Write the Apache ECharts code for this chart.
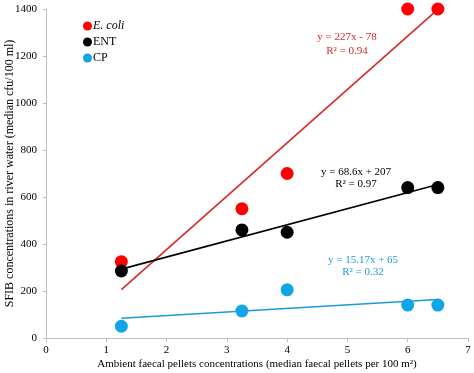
<!DOCTYPE html>
<html><head><meta charset="utf-8">
<script src="https://cdn.jsdelivr.net/npm/echarts@6/dist/echarts.min.js"></script>
<style>html,body{margin:0;padding:0;background:#fff}#c{width:474px;height:373px}</style>
</head><body><div id="c"></div>
<script>
const xVals = [1.25, 3.25, 4, 6, 6.5];
const ecoli = [325, 550, 700, 1400, 1400];
const ent = [285, 460, 450, 640, 640];
const cp = [50, 115, 205, 140, 140];
const trendX = [1.25, 6.5];
const ecoliTrend = [206, 1398];
const entTrend = [293, 653];
const cpTrend = [84, 164];
const seriesNames = ['E. coli', 'ENT', 'CP'];
const eqTexts = [['y = 227x - 78', 'R² = 0.94'], ['y = 68.6x + 207', 'R² = 0.97'], ['y = 15.17x + 65', 'R² = 0.32']];

const F = '"Liberation Serif", "Times New Roman", serif';
const pts = (ys) => xVals.map((x, i) => [x, ys[i]]);
const line = (ys) => trendX.map((x, i) => [x, ys[i]]);
const colors = ['#ff0000', '#000000', '#11a5e8'];
const lineColors = ['#d42a2a', '#000000', '#1c9ad6'];

const chart = echarts.init(document.getElementById('c'));
const series = [];
[ecoli, ent, cp].forEach((d, k) => {
  series.push({ name: seriesNames[k], type: 'scatter', data: pts(d), symbolSize: 13, itemStyle: { color: colors[k], opacity: 1 }, z: 3 });
  series.push({ name: seriesNames[k] + ' trend', type: 'line', data: line([ecoliTrend, entTrend, cpTrend][k]), symbol: 'none', lineStyle: { color: lineColors[k], width: 1.6 }, z: 2 });
});
chart.setOption({
  animation: false,
  grid: { left: 46, right: 6, top: 9, bottom: 35, containLabel: false, outerBoundsMode: 'none' },
  legend: {
    data: seriesNames, orient: 'vertical', left: 78, top: 15, itemGap: 4, icon: 'circle', itemWidth: 9, itemHeight: 9,
    textStyle: { fontFamily: F, fontSize: 12, color: '#000', padding: [0, 0, 0, -4], rich: { it: { fontStyle: 'italic', fontFamily: F, fontSize: 12 } } },
    formatter: n => n === 'E. coli' ? '{it|E. coli}' : n
  },
  xAxis: {
    type: 'value', min: 0, max: 7, interval: 1,
    name: 'Ambient faecal pellets concentrations (median faecal pellets per 100 m²)', nameLocation: 'middle', nameGap: 21, nameMoveOverlap: false,
    nameTextStyle: { fontFamily: F, fontSize: 11, color: '#000' },
    axisLine: { lineStyle: { color: '#c0c0c0' } }, axisTick: { lineStyle: { color: '#c0c0c0' }, length: 4 },
    axisLabel: { fontFamily: F, fontSize: 11, color: '#000', margin: 7 }, splitLine: { show: false }
  },
  yAxis: {
    type: 'value', min: 0, max: 1400, interval: 200,
    name: 'SFIB concentrations in river water (median cfu/100 ml)', nameLocation: 'middle', nameGap: 30, nameMoveOverlap: false,
    nameTextStyle: { fontFamily: F, fontSize: 12, color: '#000' },
    axisLine: { show: true, lineStyle: { color: '#c0c0c0' } }, axisTick: { show: true, lineStyle: { color: '#c0c0c0' }, length: 3 },
    axisLabel: { fontFamily: F, fontSize: 11, color: '#000', margin: 9, formatter: v => String(v) }, splitLine: { show: false }
  },
  graphic: [
    { type: 'text', x: 347, y: 44, style: { text: eqTexts[0].join('\n'), fill: '#d42a2a', font: '11px ' + F, align: 'center', verticalAlign: 'middle', lineHeight: 14 } },
    { type: 'text', x: 356, y: 178, style: { text: eqTexts[1].join('\n'), fill: '#000', font: '11px ' + F, align: 'center', verticalAlign: 'middle', lineHeight: 12 } },
    { type: 'text', x: 363, y: 266, style: { text: eqTexts[2].join('\n'), fill: '#1c9ad6', font: '11px ' + F, align: 'center', verticalAlign: 'middle', lineHeight: 12 } }
  ],
  series
});
</script></body></html>
